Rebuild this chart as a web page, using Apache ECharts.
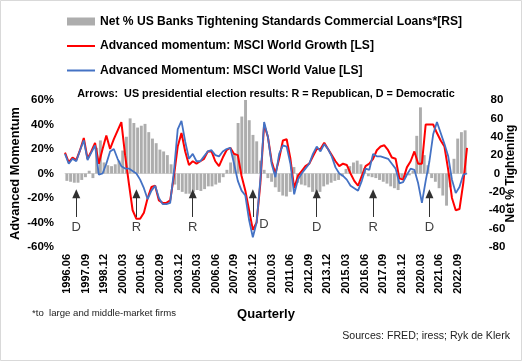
<!DOCTYPE html>
<html><head><meta charset="utf-8">
<script src="https://cdn.jsdelivr.net/npm/echarts@6/dist/echarts.min.js"></script>
<style>html,body{margin:0;padding:0;background:#fff}#c{width:522px;height:361px}</style>
</head><body><div id="c"></div>
<script>
const quarters = [
 '1996.06','1996.09','1996.12',
 '1997.03','1997.06','1997.09','1997.12','1998.03','1998.06','1998.09','1998.12',
 '1999.03','1999.06','1999.09','1999.12','2000.03','2000.06','2000.09','2000.12',
 '2001.03','2001.06','2001.09','2001.12','2002.03','2002.06','2002.09','2002.12',
 '2003.03','2003.06','2003.09','2003.12','2004.03','2004.06','2004.09','2004.12',
 '2005.03','2005.06','2005.09','2005.12','2006.03','2006.06','2006.09','2006.12',
 '2007.03','2007.06','2007.09','2007.12','2008.03','2008.06','2008.09','2008.12',
 '2009.03','2009.06','2009.09','2009.12','2010.03','2010.06','2010.09','2010.12',
 '2011.03','2011.06','2011.09','2011.12','2012.03','2012.06','2012.09','2012.12',
 '2013.03','2013.06','2013.09','2013.12','2014.03','2014.06','2014.09','2014.12',
 '2015.03','2015.06','2015.09','2015.12','2016.03','2016.06','2016.09','2016.12',
 '2017.03','2017.06','2017.09','2017.12','2018.03','2018.06','2018.09','2018.12',
 '2019.03','2019.06','2019.09','2019.12','2020.03','2020.06','2020.09','2020.12',
 '2021.03','2021.06','2021.09','2021.12','2022.03','2022.06','2022.09','2022.12',
 '2023.03'
];

// Net % US banks tightening standards, C&I loans (right scale)
const tighteningRS = [
 -8, -9, -10, -10, -7, -4, 3, -5, 28, 36,
 12, 9, 8, 10, 14, 25, 40, 60, 55, 50,
 52, 54, 45, 38, 33, 26, 24, 20, 10, -12,
 -18, -20, -22, -22, -20, -18, -19, -17, -14, -14,
 -12, -10, -4, 4, 12, 22, 55, 62, 80, 58,
 42, 35, 14, 4, -5, -9, -15, -20, -24, -25,
 -20, 7, -10, -12, -13, -15, -20, -22, -20, -14,
 -12, -10, -8, -7, -3, 5, 8, 12, 14, 10,
 6, -3, -4, -5, -7, -9, -11, -14, -16, -18,
 -5, -4, -2, 3, 41, 72, 20, 9, -5, -9,
 -16, -24, -35, -15, 16, 38, 45, 47
];

// Advanced momentum: MSCI World Growth (left scale, %)
const growthLS = [
 17, 9, 13, 11, 19, 29, 12, 18, 25, 8,
 20, 31, 20, 28, 35, 42, 15, -8, -30, -37,
 -37, -32, -20, -11, -10, -22, -24, -24, -22, -2,
 22, 33, 18, 7, 10, 8, 10, 12, 18, 18,
 10, 6, 13, 19, 21, 16, 15, -2, -14, -30,
 -46, -40, -8, 40, 30, 10, 0, 12, 27, 28,
 12, -12, -2, 2, 6, 8, 14, 20, 20, 25,
 20, 15, 10, 6, 8, 7, 0, -6, -10, -2,
 6, 8, 12, 19, 22, 23, 19, 13, 12, -4,
 -5, 5, 10, 18, 8, 8, 40, 40, 40, 33,
 27, 22, 3, -20, -30, -29, -8, 21
];

// Advanced Momentum: MSCI World Value (left scale, %)
const valueLS = [
 16, 8, 12, 10, 19, 27, 11, 17, 23, -1,
 0, 8, 18, 20, 12, 6, 4, 4, 2, 0,
 -5, -12, -21, -14, -10, -20, -25, -25, -24, 2,
 36, 43, 26, 12, 16, 10, 10, 14, 18, 19,
 15, 14, 18, 20, 21, 8, -6, -14, -18, -38,
 -52, -40, -5, 42, 30, 8, -3, 16, 23, 22,
 8, -17, -5, 0, 4, 8, 16, 22, 18, 24,
 20, 14, 5, 0, -2, -5, -10, -12, -14, -6,
 4, 3, 16, 14, 14, 13, 12, 8, 4, -8,
 -7, -1, 4, 3, -8, -24, -6, 10, 32, 42,
 33, 24, 14, -5, -16, -11, -1, 0
];

// US presidential elections (arrow positions on the quarterly axis) and winning party
const electionQuarter = ['1997.03','2001.03','2004.12','2008.12','2013.03','2016.12','2020.09'];
const electionParty = ['D','R','R','D','D','R','D'];

const leftTicks = {min: -60, max: 60, step: 20};
const rightTicks = {min: -80, max: 80, step: 20};

const SER_BAR = 'Net % US Banks Tightening Standards Commercial Loans*[RS]';
const SER_G = 'Advanced momentum: MSCI World Growth [LS]';
const SER_V = 'Advanced Momentum: MSCI World Value [LS]';

const FONT = '"Liberation Sans", Arial, sans-serif';
const chart = echarts.init(document.getElementById('c'), null, {renderer: 'canvas'});

const option = {
  animation: false,
  backgroundColor: '#ffffff',
  textStyle: {fontFamily: FONT},
  legend: {
    orient: 'vertical', left: 66, top: 14, padding: 0,
    itemWidth: 28, itemHeight: 8, itemGap: 9.5,
    textStyle: {fontFamily: FONT, fontWeight: 'bold', fontSize: 12.1, color: '#000', lineHeight: 15},
    data: [
      {name: SER_BAR, icon: 'rect'},
      {name: SER_G, itemStyle: {opacity: 0}},
      {name: SER_V, itemStyle: {opacity: 0}}
    ],
    selectedMode: false
  },
  grid: {left: 65, right: 55, top: 100, bottom: 114, outerBoundsMode: 'none', containLabel: false},
  xAxis: [
    {
      type: 'category', data: quarters, boundaryGap: true,
      axisLine: {lineStyle: {color: '#d9d9d9', width: 1}},
      axisTick: {show: false},
      axisLabel: {interval: 4, rotate: 90, fontFamily: FONT, fontWeight: 'bold', fontSize: 11, color: '#000', margin: 7},
      name: 'Quarterly', nameLocation: 'middle', nameGap: 61, nameMoveOverlap: false,
      nameTextStyle: {fontFamily: FONT, fontWeight: 'bold', fontSize: 13, color: '#000'}
    },
    {type: 'category', data: quarters, boundaryGap: false, show: false}
  ],
  yAxis: [
    {
      type: 'value', min: leftTicks.min, max: leftTicks.max, interval: leftTicks.step, position: 'left',
      splitLine: {show: false}, axisLine: {show: false}, axisTick: {show: false},
      axisLabel: {formatter: '{value}%', fontFamily: FONT, fontWeight: 'bold', fontSize: 11.5, color: '#000', margin: 11},
      name: 'Advanced Momentum', nameLocation: 'middle', nameRotate: 90, nameGap: 43, nameMoveOverlap: false,
      nameTextStyle: {fontFamily: FONT, fontWeight: 'bold', fontSize: 12.8, color: '#000'}
    },
    {
      type: 'value', min: rightTicks.min, max: rightTicks.max, interval: rightTicks.step, position: 'right',
      splitLine: {show: false}, axisLine: {show: false}, axisTick: {show: false},
      axisLabel: {fontFamily: FONT, fontWeight: 'bold', fontSize: 11.5, color: '#000', margin: 30, align: 'center'},
      name: 'Net % Tightening', nameLocation: 'middle', nameRotate: 90, nameGap: 38, nameMoveOverlap: false,
      nameTextStyle: {fontFamily: FONT, fontWeight: 'bold', fontSize: 12, color: '#000'}
    }
  ],
  series: [
    {
      name: SER_BAR, type: 'bar', xAxisIndex: 0, yAxisIndex: 1, data: tighteningRS,
      barCategoryGap: '22%', itemStyle: {color: '#adadad'}, z: 1
    },
    {
      name: SER_G, type: 'line', xAxisIndex: 1, yAxisIndex: 0, data: growthLS,
      symbol: 'none', lineStyle: {color: '#ff0000', width: 2}, itemStyle: {color: '#ff0000'}, z: 3
    },
    {
      name: SER_V, type: 'line', xAxisIndex: 1, yAxisIndex: 0, data: valueLS,
      symbol: 'none', lineStyle: {color: '#4472c4', width: 1.8}, itemStyle: {color: '#4472c4'}, z: 4
    },
    {
      name: 'elections', type: 'line', xAxisIndex: 1, yAxisIndex: 0, data: [], z: 5,
      markLine: {
        silent: true, animation: false,
        symbol: ['none', 'triangle'], symbolSize: [8, 9],
        lineStyle: {color: '#303030', width: 1, type: 'solid'},
        label: {show: true, position: 'start', formatter: '{b}', color: '#404040', fontSize: 13, fontFamily: FONT, distance: 4},
        emphasis: {disabled: true},
        data: electionQuarter.map((q, j) => [
          {name: electionParty[j], coord: [q, -35.5],
           label: j === 3 ? {offset: [11, -3]} : {}},
          {coord: [q, -16.5]}
        ])
      }
    }
  ],
  graphic: [
    {type: 'rect', shape: {x: 0.5, y: 0.5, width: 521, height: 360}, style: {fill: 'none', stroke: '#d9d9d9', lineWidth: 1}, silent: true},
    {type: 'text', x: 266, y: 94, silent: true,
     style: {text: 'Arrows:  US presidential election results: R = Republican, D = Democratic', font: 'bold 10.8px ' + FONT, fill: '#000', textAlign: 'center', textVerticalAlign: 'middle'}},
    {type: 'text', x: 32, y: 313, silent: true,
     style: {text: '*to  large and middle-market firms', font: '9.6px ' + FONT, fill: '#222', textAlign: 'left', textVerticalAlign: 'middle'}},
    {type: 'text', x: 510, y: 336, silent: true,
     style: {text: 'Sources: FRED; iress; Ryk de Klerk', font: '10.6px ' + FONT, fill: '#222', textAlign: 'right', textVerticalAlign: 'middle'}}
  ]
};
chart.setOption(option);
</script>
</body></html>
